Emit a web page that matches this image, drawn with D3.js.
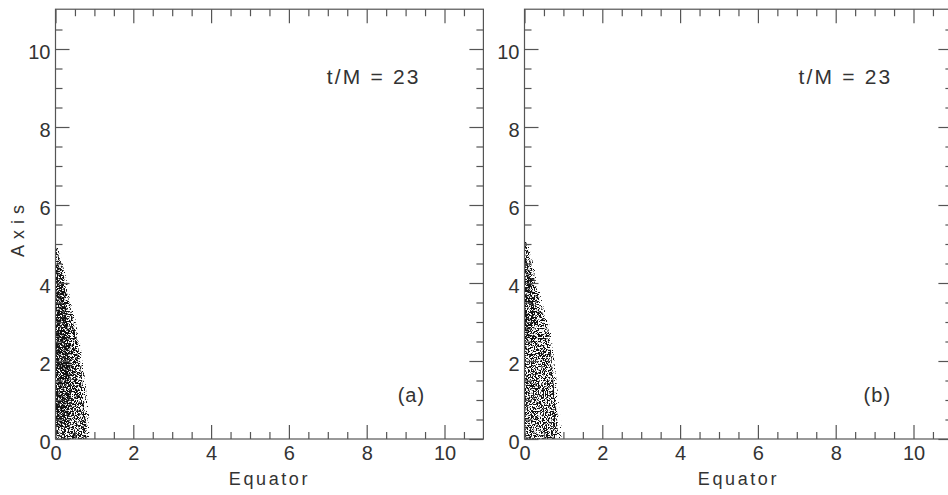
<!DOCTYPE html>
<html>
<head>
<meta charset="utf-8">
<title>t/M = 23</title>
<script src="https://d3js.org/d3.v7.min.js"></script>
<style>
  body { margin: 0; background: #fff; }
  text { font-family: "Liberation Sans", Arial, sans-serif; fill: #333; }
  .frame { fill: none; stroke: #555; stroke-width: 1.2; }
  .tick line { stroke: #555; stroke-width: 1.2; }
  .tick text { font-size: 20px; fill: #333; }
</style>
</head>
<body>
<svg width="948" height="495"></svg>
<script>
// axes
var majorTicks = [0, 2, 4, 6, 8, 10];
var minorTicks = [0.5, 1, 1.5, 2.5, 3, 3.5, 4.5, 5, 5.5, 6.5, 7, 7.5, 8.5, 9, 9.5, 10.5];

// particle cloud envelope, panel (a): height on axis and outer equatorial edge
var edgeAy = [0, 0.25, 0.8, 1.1, 1.7, 2.0, 2.5, 2.8, 3.4, 3.9, 4.3, 4.55, 4.86, 4.92];
var edgeAx = [0.80, 0.80, 0.76, 0.72, 0.67, 0.63, 0.57, 0.50, 0.38, 0.26, 0.20, 0.13, 0.05, 0];
// sparse stray particles just outside the edge, panel (a)
var fringeAy = [0, 0.4, 1.2, 2.0, 2.8, 3.6, 4.3, 4.9, 5.0];
var fringeAx = [0.86, 0.88, 0.80, 0.70, 0.58, 0.38, 0.24, 0.08, 0];
// denser core, panel (a)
var coreAy = [0.3, 1.0, 2.0, 2.6, 3.2, 3.8, 4.3, 4.6];
var coreAx = [0.35, 0.40, 0.38, 0.33, 0.28, 0.22, 0.14, 0];

// particle cloud envelope, panel (b)
var edgeBy = [0, 0.3, 0.6, 1.1, 1.9, 2.4, 2.8, 3.3, 3.9, 4.5, 4.8, 5.07, 5.1];
var edgeBx = [0.80, 0.86, 0.85, 0.77, 0.71, 0.67, 0.62, 0.45, 0.30, 0.17, 0.10, 0.04, 0];
var fringeBy = [0, 0.4, 1.0, 1.9, 2.8, 3.5, 4.2, 5.0, 5.15];
var fringeBx = [0.95, 0.95, 0.88, 0.78, 0.68, 0.46, 0.30, 0.10, 0];
var coreBy = [2.6, 3.0, 3.5, 4.0, 4.4, 4.8];
var coreBx = [0.12, 0.24, 0.24, 0.18, 0.10, 0];

var panels = [
  { id: "a", left: 55.5, label: "(a)", time: "t/M = 23", ey: edgeAy, ex: edgeAx, fy: fringeAy, fx: fringeAx, cy: coreAy, cx: coreAx, labelX: 9.15, timeX: 8.18 },
  { id: "b", left: 524.5, label: "(b)", time: "t/M = 23", ey: edgeBy, ex: edgeBx, fy: fringeBy, fx: fringeBx, cy: coreBy, cx: coreBx, labelX: 9.07, timeX: 8.25 }
];

var svg = d3.select("svg"),
    bottom = 439,
    pxPerX = 38.9,
    pxPerY = 39,
    xMax = 11, yMax = 11.02;

var defs = svg.append("defs");

function speckle(id, seed, freq, slope, offset) {
  var f = defs.append("filter").attr("id", id)
      .attr("x", 0).attr("y", 0).attr("width", 1).attr("height", 1)
      .attr("color-interpolation-filters", "sRGB");
  f.append("feTurbulence").attr("type", "fractalNoise")
      .attr("baseFrequency", freq).attr("numOctaves", 2).attr("seed", seed).attr("result", "noise");
  f.append("feColorMatrix").attr("in", "noise").attr("type", "matrix")
      .attr("values", "0 0 0 0 0  0 0 0 0 0  0 0 0 0 0  " + slope + " 0 0 0 " + offset)
      .attr("result", "mask");
  f.append("feComposite").attr("in", "SourceGraphic").attr("in2", "mask").attr("operator", "in");
}
speckle("speckFringe1", 23, 0.9, 14, -8.4);
speckle("speckFringe2", 29, 0.9, 14, -8.4);
speckle("speckOuter1", 3, 0.7, 14, -6.75);
speckle("speckOuter2", 11, 0.7, 14, -6.85);
speckle("speckCore1", 7, 0.8, 14, -6.6);
speckle("speckCore2", 19, 0.8, 14, -6.7);

panels.forEach(function(p, i) {
  var x = d3.scaleLinear().domain([0, xMax]).range([p.left, p.left + xMax * pxPerX]);
  var y = d3.scaleLinear().domain([0, yMax]).range([bottom, bottom - yMax * pxPerY]);
  var g = svg.append("g");

  g.append("clipPath").attr("id", "clip" + p.id)
    .append("rect")
      .attr("x", x(0)).attr("y", y(yMax))
      .attr("width", x(xMax) - x(0)).attr("height", y(0) - y(yMax));

  var line = d3.line().x(function(d) { return x(d[0]); }).y(function(d) { return y(d[1]); });

  function cloud(ys, xs, start, filterId) {
    var pts = [[0, start]].concat(ys.map(function(v, k) { return [xs[k], v]; }));
    pts.push([0, ys[ys.length - 1]]);
    g.append("path").attr("d", line(pts) + "Z")
        .attr("fill", "#111").attr("clip-path", "url(#clip" + p.id + ")")
        .attr("filter", "url(#" + filterId + (i + 1) + ")");
  }
  cloud(p.fy, p.fx, 0, "speckFringe");
  cloud(p.ey, p.ex, 0, "speckOuter");
  cloud(p.cy, p.cx, p.cy[0], "speckCore");

  // frame
  g.append("rect").attr("class", "frame")
      .attr("x", x(0)).attr("y", y(yMax))
      .attr("width", x(xMax) - x(0)).attr("height", y(0) - y(yMax));

  // ticks, inward on all sides
  function put(axis, transform, labels) {
    var a = g.append("g").attr("transform", transform).call(axis);
    a.select(".domain").remove();
    if (!labels) a.selectAll("text").remove();
    return a;
  }
  var xb = put(d3.axisBottom(x).tickValues(majorTicks).tickSize(-14).tickFormat(d3.format("d")),
      "translate(0," + y(0) + ")", true);
  xb.selectAll("text").attr("dy", "0.35em").attr("y", 14);
  put(d3.axisBottom(x).tickValues(minorTicks).tickSize(-7), "translate(0," + y(0) + ")", false);
  put(d3.axisTop(x).tickValues(majorTicks).tickSize(-14), "translate(0," + y(yMax) + ")", false);
  put(d3.axisTop(x).tickValues(minorTicks).tickSize(-7), "translate(0," + y(yMax) + ")", false);

  var yl = put(d3.axisLeft(y).tickValues(majorTicks).tickSize(-14).tickFormat(d3.format("d")),
      "translate(" + x(0) + ",0)", true);
  yl.selectAll("text").attr("x", -5).attr("dy", "0.45em");
  put(d3.axisLeft(y).tickValues(minorTicks).tickSize(-7), "translate(" + x(0) + ",0)", false);
  put(d3.axisRight(y).tickValues(majorTicks).tickSize(-14), "translate(" + x(xMax) + ",0)", false);
  put(d3.axisRight(y).tickValues(minorTicks).tickSize(-7), "translate(" + x(xMax) + ",0)", false);

  // annotations
  g.append("text").attr("x", x(p.timeX)).attr("y", y(9.1))
      .attr("text-anchor", "middle").attr("font-size", 21).attr("letter-spacing", 2.2)
      .text(p.time);
  g.append("text").attr("x", x(p.labelX)).attr("y", y(1.13)).attr("dy", "0.35em")
      .attr("text-anchor", "middle").attr("font-size", 20).attr("letter-spacing", 1)
      .text(p.label);

  g.append("text").attr("x", (x(0) + x(xMax)) / 2).attr("y", 485)
      .attr("text-anchor", "middle").attr("font-size", 18).attr("letter-spacing", 2.6)
      .text("Equator");
});

svg.append("text")
    .attr("transform", "translate(24,228) rotate(-90)")
    .attr("text-anchor", "middle").attr("font-size", 18).attr("letter-spacing", 6)
    .text("Axis");
</script>
</body>
</html>
